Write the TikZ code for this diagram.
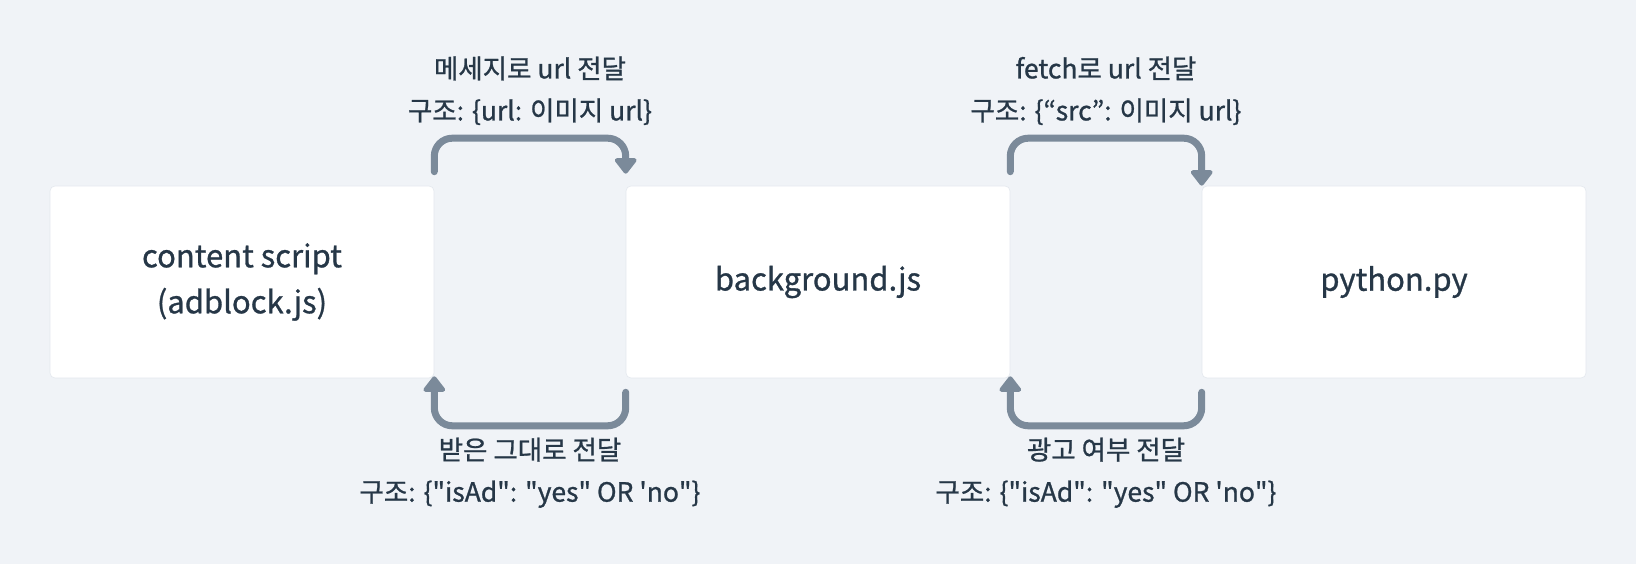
\documentclass[tikz,border=0pt]{standalone}
\usepackage{fontspec}
\setmainfont{Noto Sans CJK KR}[FakeBold=0.9]
\usetikzlibrary{arrows.meta,calc}
\definecolor{bgc}{HTML}{F0F3F7}
\definecolor{txt}{HTML}{263747}
\definecolor{arr}{HTML}{7B8A9A}
\definecolor{edge}{HTML}{E4E8EE}
\newcommand{\dq}{\textquotedbl}
\tikzset{
  box/.style={rectangle, rounded corners=5pt, fill=white, draw=edge, line width=0.6pt,
    minimum width=384pt, minimum height=192pt, inner sep=0pt, align=center,
    text=txt, font=\fontsize{31}{46}\selectfont},
  conn/.style={draw=arr, line width=7pt, line cap=round, rounded corners=18pt,
    -{Triangle[width=25pt,length=17pt,round]}},
  lbl/.style={text=txt, align=center, font=\fontsize{26.5}{42}\selectfont, inner sep=0pt}
}
\begin{document}
\begin{tikzpicture}[x=1pt,y=1pt]
\useasboundingbox[fill=bgc] (0,0) rectangle (1636,564);
\node[box] (b1) at (242,282) {content script\\(adblock.js)};
\node[box] (b2) at (818,282) {background.js};
\node[box] (b3) at (1394,282) {python.py};
% top connectors
\draw[conn] ($(b1.north east)+(0,14)$) -- ($(b1.north east)+(0,47.5)$) -- ($(b2.north west)+(0,47.5)$) -- ($(b2.north west)+(0,12)$);
\draw[conn] ($(b2.north east)+(0,14)$) -- ($(b2.north east)+(0,47.5)$) -- ($(b3.north west)+(0,47.5)$) -- ($(b3.north west)+(0,0)$);
% bottom connectors
\draw[conn] ($(b2.south west)+(0,-14)$) -- ($(b2.south west)+(0,-47.5)$) -- ($(b1.south east)+(0,-47.5)$) -- ($(b1.south east)+(0,2)$);
\draw[conn] ($(b3.south west)+(0,-14)$) -- ($(b3.south west)+(0,-47.5)$) -- ($(b2.south east)+(0,-47.5)$) -- ($(b2.south east)+(0,2)$);
% labels
\node[lbl] (t1) at ($(b1.north east)!0.5!(b2.north west)+(0,95)$) {메세지로 url 전달\\구조: \{url: 이미지 url\}};
\node[lbl] (t2) at ($(b2.north east)!0.5!(b3.north west)+(0,95)$) {fetch로 url 전달\\구조: \{“src”: 이미지 url\}};
\node[lbl] (u1) at ($(b1.south east)!0.5!(b2.south west)+(0,-94.5)$) {받은 그대로 전달\\구조: \{\dq isAd\dq: \dq yes\dq{} OR \textquotesingle no\dq\}};
\node[lbl] (u2) at ($(b2.south east)!0.5!(b3.south west)+(0,-94.5)$) {광고 여부 전달\\구조: \{\dq isAd\dq: \dq yes\dq{} OR \textquotesingle no\dq\}};
\end{tikzpicture}
\end{document}
